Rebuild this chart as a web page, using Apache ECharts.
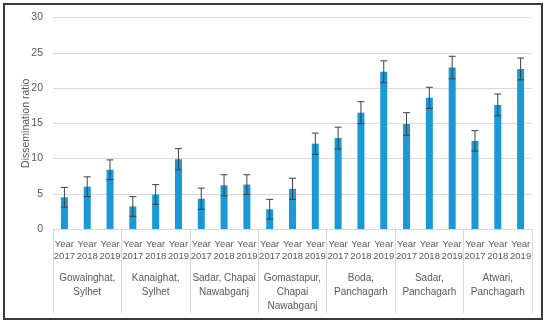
<!DOCTYPE html>
<html><head><meta charset="utf-8">
<script src="https://cdn.jsdelivr.net/npm/echarts@6/dist/echarts.min.js"></script>
<style>html,body{margin:0;padding:0;background:#fff}#c{width:550px;height:326px}</style>
</head><body><div id="c"></div>
<script>
var groups = ["Gowainghat,\nSylhet", "Kanaighat,\nSylhet", "Sadar, Chapai\nNawabganj", "Gomastapur,\nChapai\nNawabganj", "Boda,\nPanchagarh", "Sadar,\nPanchagarh", "Atwari,\nPanchagarh"];
var years = ["Year\n2017", "Year\n2018", "Year\n2019"];
var values = [4.5, 6.0, 8.4, 3.2, 4.9, 9.9, 4.3, 6.2, 6.3, 2.8, 5.7, 12.1, 12.9, 16.5, 22.3, 14.9, 18.6, 22.9, 12.5, 17.6, 22.7];
var errors = [1.4, 1.4, 1.4, 1.4, 1.4, 1.5, 1.5, 1.5, 1.4, 1.4, 1.5, 1.5, 1.55, 1.55, 1.55, 1.6, 1.5, 1.6, 1.45, 1.55, 1.55];
var yTicks = {min: 0, max: 30, interval: 5};

var cats = [];
groups.forEach(function(g, gi){ years.forEach(function(y){ cats.push(y + "|" + gi); }); });
var errData = values.map(function(v, i){ return [i, v - errors[i], v + errors[i]]; });

var font = "'Liberation Sans', Arial, sans-serif";
var chart = echarts.init(document.getElementById('c'), null, {renderer: 'canvas'});
chart.setOption({
  animation: false,
  grid: {left: 53, right: 18, top: 17.5, bottom: 97, containLabel: false},
  graphic: [{type: 'rect', shape: {x: 4, y: 4, width: 538, height: 315}, style: {fill: 'none', stroke: '#3a3a3a', lineWidth: 2}, silent: true}],
  xAxis: [{
    type: 'category', data: cats, position: 'bottom',
    axisLine: {lineStyle: {color: '#d9d9d9', width: 1}},
    axisTick: {show: false},
    axisLabel: {interval: 0, margin: 9, color: '#595959', fontSize: 9.5, fontFamily: font, lineHeight: 12,
      formatter: function(v){ return v.split('|')[0]; }}
  }, {
    type: 'category', data: groups, position: 'bottom', gridIndex: 0,
    axisLine: {show: false},
    axisTick: {show: true, alignWithLabel: false, length: 84, lineStyle: {color: '#d9d9d9', width: 1}},
    axisLabel: {interval: 0, margin: 42, color: '#595959', fontSize: 10, fontFamily: font, lineHeight: 14}
  }],
  yAxis: {
    type: 'value', min: yTicks.min, max: yTicks.max, interval: yTicks.interval,
    name: 'Dissemination ratio', nameLocation: 'middle', nameGap: 21, nameMoveOverlap: false,
    nameTextStyle: {color: '#595959', fontSize: 10.5, fontFamily: font},
    axisLine: {show: false}, axisTick: {show: false},
    axisLabel: {color: '#595959', fontSize: 10.5, fontFamily: font, margin: 10},
    splitLine: {lineStyle: {color: '#d9d9d9', width: 1}}
  },
  series: [{
    type: 'bar', data: values, barWidth: 7, xAxisIndex: 0,
    itemStyle: {color: '#1b98d6'}
  }, {
    type: 'custom', xAxisIndex: 0, data: errData, z: 10,
    renderItem: function(params, api){
      var x = api.value(0);
      var lo = api.coord([x, api.value(1)]);
      var hi = api.coord([x, api.value(2)]);
      var cw = 3.5;
      var st = {stroke: '#404040', lineWidth: 1};
      return {type: 'group', children: [
        {type: 'line', shape: {x1: hi[0], y1: hi[1], x2: lo[0], y2: lo[1]}, style: st},
        {type: 'line', shape: {x1: hi[0]-cw, y1: hi[1], x2: hi[0]+cw, y2: hi[1]}, style: st},
        {type: 'line', shape: {x1: lo[0]-cw, y1: lo[1], x2: lo[0]+cw, y2: lo[1]}, style: st}
      ]};
    }
  }]
});
</script></body></html>
